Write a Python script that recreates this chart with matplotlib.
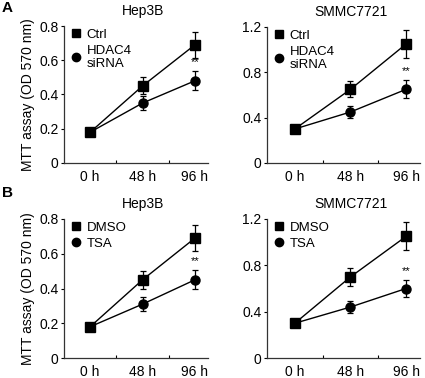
import numpy as np
import matplotlib
matplotlib.use('Agg')
import matplotlib.pyplot as plt
from matplotlib.lines import Line2D

plt.rcParams['font.family'] = ['Liberation Sans', 'DejaVu Sans']

timepoints = ['0 h', '48 h', '96 h']

# panel A: HDAC4 knockdown
a_hep_ctrl = [0.18, 0.45, 0.69]
a_hep_ctrl_err = [0.015, 0.05, 0.075]
a_hep_si = [0.18, 0.35, 0.48]
a_hep_si_err = [0.015, 0.04, 0.055]

a_smmc_ctrl = [0.30, 0.65, 1.05]
a_smmc_ctrl_err = [0.02, 0.07, 0.12]
a_smmc_si = [0.30, 0.45, 0.65]
a_smmc_si_err = [0.02, 0.05, 0.08]

# panel B: TSA treatment
b_hep_dmso = [0.18, 0.45, 0.69]
b_hep_dmso_err = [0.015, 0.05, 0.075]
b_hep_tsa = [0.18, 0.31, 0.45]
b_hep_tsa_err = [0.015, 0.04, 0.055]

b_smmc_dmso = [0.30, 0.70, 1.05]
b_smmc_dmso_err = [0.02, 0.08, 0.12]
b_smmc_tsa = [0.30, 0.44, 0.60]
b_smmc_tsa_err = [0.02, 0.05, 0.075]

fig = plt.figure(figsize=(4.25, 3.78), dpi=100)
W, H = 425, 378


def make_axes(left, right, top, bottom):
    return fig.add_axes([left / W, 1 - bottom / H, (right - left) / W, (bottom - top) / H])


def draw_panel(ax, title, ymax, yticks, yticklabels, s1, e1, s2, e2, labels, ylabel):
    x = np.arange(len(timepoints))
    ax.errorbar(x, s1, yerr=e1, color='black', marker='s', markersize=6.5, lw=1,
                capsize=2, elinewidth=0.9, capthick=0.9, zorder=3)
    ax.errorbar(x, s2, yerr=e2, color='black', marker='o', markersize=6.5, lw=1,
                capsize=2, elinewidth=0.9, capthick=0.9, zorder=3)
    ax.text(2, s2[2] + e2[2] + ymax * 0.03, '**', ha='center', va='bottom', fontsize=8)
    ax.set_xlim(-0.5, 2.25)
    ax.set_ylim(0, ymax)
    ax.set_yticks(yticks)
    ax.set_yticklabels(yticklabels, fontsize=10)
    ax.set_xticks([0.5, 1.5])
    ax.set_xticklabels([])
    ax.set_xticks(x, minor=True)
    ax.set_xticklabels(timepoints, minor=True, fontsize=10)
    ax.tick_params(axis='x', which='major', direction='in', length=2, width=0.8)
    ax.tick_params(axis='x', which='minor', length=0, pad=5)
    ax.tick_params(axis='y', length=2, width=0.8, pad=2)
    for side in ['top', 'right']:
        ax.spines[side].set_visible(False)
    for side in ['left', 'bottom']:
        ax.spines[side].set_linewidth(0.9)
        ax.spines[side].set_color('#333333')
    ax.set_title(title, fontsize=10, pad=8, x=0.55)
    if ylabel:
        ax.set_ylabel('MTT assay (OD 570 nm)', fontsize=10, labelpad=3)
    handles = [Line2D([], [], color='black', marker='s', linestyle='none', markersize=5.5),
               Line2D([], [], color='black', marker='o', linestyle='none', markersize=6)]
    ax.legend(handles, labels, loc='upper left', bbox_to_anchor=(0.0, 1.04), frameon=False,
              fontsize=9.5, handlelength=0.6, handletextpad=0.5, borderaxespad=0.2,
              labelspacing=0.3)


ax1 = make_axes(64, 208, 26, 163)
draw_panel(ax1, 'Hep3B', 0.8, [0, 0.2, 0.4, 0.6, 0.8], ['0', '0.2', '0.4', '0.6', '0.8'],
           a_hep_ctrl, a_hep_ctrl_err, a_hep_si, a_hep_si_err, ['Ctrl', 'HDAC4\nsiRNA'], True)
ax2 = make_axes(267, 420, 27, 163)
draw_panel(ax2, 'SMMC7721', 1.2, [0, 0.4, 0.8, 1.2], ['0', '0.4', '0.8', '1.2'],
           a_smmc_ctrl, a_smmc_ctrl_err, a_smmc_si, a_smmc_si_err, ['Ctrl', 'HDAC4\nsiRNA'], False)
ax3 = make_axes(64, 208, 219, 358)
draw_panel(ax3, 'Hep3B', 0.8, [0, 0.2, 0.4, 0.6, 0.8], ['0', '0.2', '0.4', '0.6', '0.8'],
           b_hep_dmso, b_hep_dmso_err, b_hep_tsa, b_hep_tsa_err, ['DMSO', 'TSA'], True)
ax4 = make_axes(267, 420, 219, 358)
draw_panel(ax4, 'SMMC7721', 1.2, [0, 0.4, 0.8, 1.2], ['0', '0.4', '0.8', '1.2'],
           b_smmc_dmso, b_smmc_dmso_err, b_smmc_tsa, b_smmc_tsa_err, ['DMSO', 'TSA'], False)

fig.text(2 / W, 1 - 8 / H, 'A', fontsize=11, fontweight='bold', va='center')
fig.text(2 / W, 1 - 193 / H, 'B', fontsize=11, fontweight='bold', va='center')

fig.savefig('out.png', dpi=100)
